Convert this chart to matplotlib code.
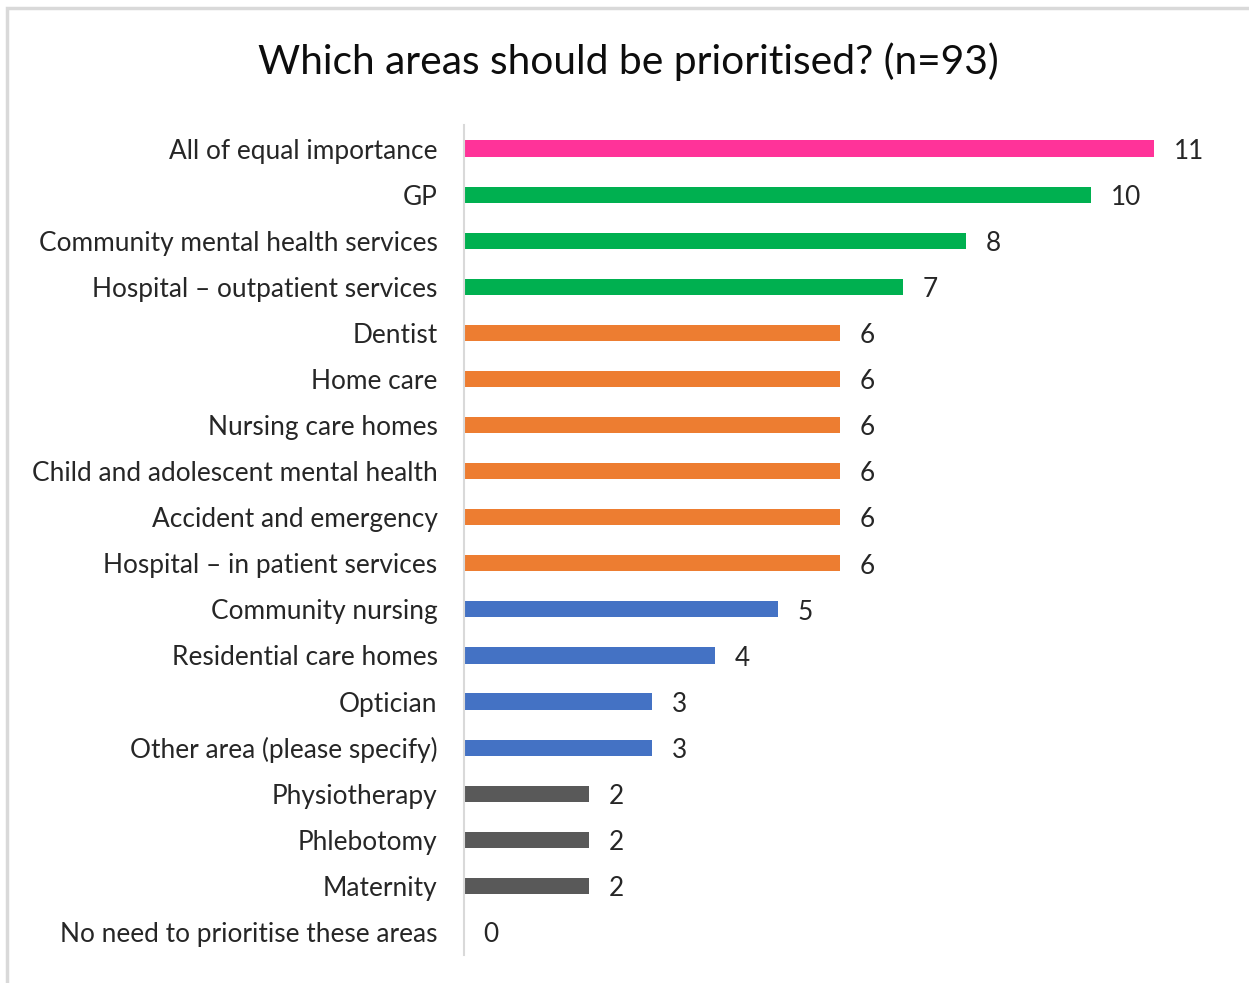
import matplotlib.pyplot as plt
from matplotlib.patches import Rectangle

# data
categories = [
    "All of equal importance",
    "GP",
    "Community mental health services",
    "Hospital \u2013 outpatient services",
    "Dentist",
    "Home care",
    "Nursing care homes",
    "Child and adolescent mental health",
    "Accident and emergency",
    "Hospital \u2013 in patient services",
    "Community nursing",
    "Residential care homes",
    "Optician",
    "Other area (please specify)",
    "Physiotherapy",
    "Phlebotomy",
    "Maternity",
    "No need to prioritise these areas",
]
counts = [11, 10, 8, 7, 6, 6, 6, 6, 6, 6, 5, 4, 3, 3, 2, 2, 2, 0]
groups = ["pink", "green", "green", "green", "orange", "orange", "orange", "orange",
          "orange", "orange", "blue", "blue", "blue", "blue", "grey", "grey", "grey", "grey"]

COLORS = {"pink": "#FF3399", "green": "#00B050", "orange": "#ED7D31",
          "blue": "#4472C4", "grey": "#595959"}

plt.rcParams['font.family'] = ['Lato', 'DejaVu Sans']

W, H = 1249, 983
fig = plt.figure(figsize=(W / 100, H / 100), dpi=100)

# light grey frame round the chart (cropped at right and bottom)
fig.patches.append(Rectangle((7 / W, -0.1), 1.2, 1 - 8 / H + 0.1, transform=fig.transFigure,
                             fill=False, edgecolor="#D9D9D9", linewidth=2.5))

ax = fig.add_axes([464 / W, 1 - 955 / H, (1154 - 464) / W, (955 - 125.5) / H])

y = list(range(len(categories)))
ax.barh(y, counts, height=0.35, color=[COLORS[g] for g in groups])
for yi, v in zip(y, counts):
    ax.annotate(str(v), (v, yi), xytext=(14, -2), textcoords="offset points",
                va="center", ha="left", fontsize=18.8, color="#262626")

ax.set_xlim(0, 11)
ax.set_ylim(len(categories) - 0.5, -0.5)
ax.set_yticks(y)
ax.set_yticklabels(categories, fontsize=18.9, color="#262626")
ax.tick_params(axis="y", length=0, pad=19)
ax.set_xticks([])
for s in ["top", "right", "bottom"]:
    ax.spines[s].set_visible(False)
ax.spines["left"].set_color("#D9D9D9")
ax.spines["left"].set_linewidth(1.5)

fig.text(628 / W, 1 - 62 / H, "Which areas should be prioritised? (n=93)", ha="center", va="center",
         fontsize=29.3, color="#0D0D0D")

fig.savefig("out.png", dpi=100)
